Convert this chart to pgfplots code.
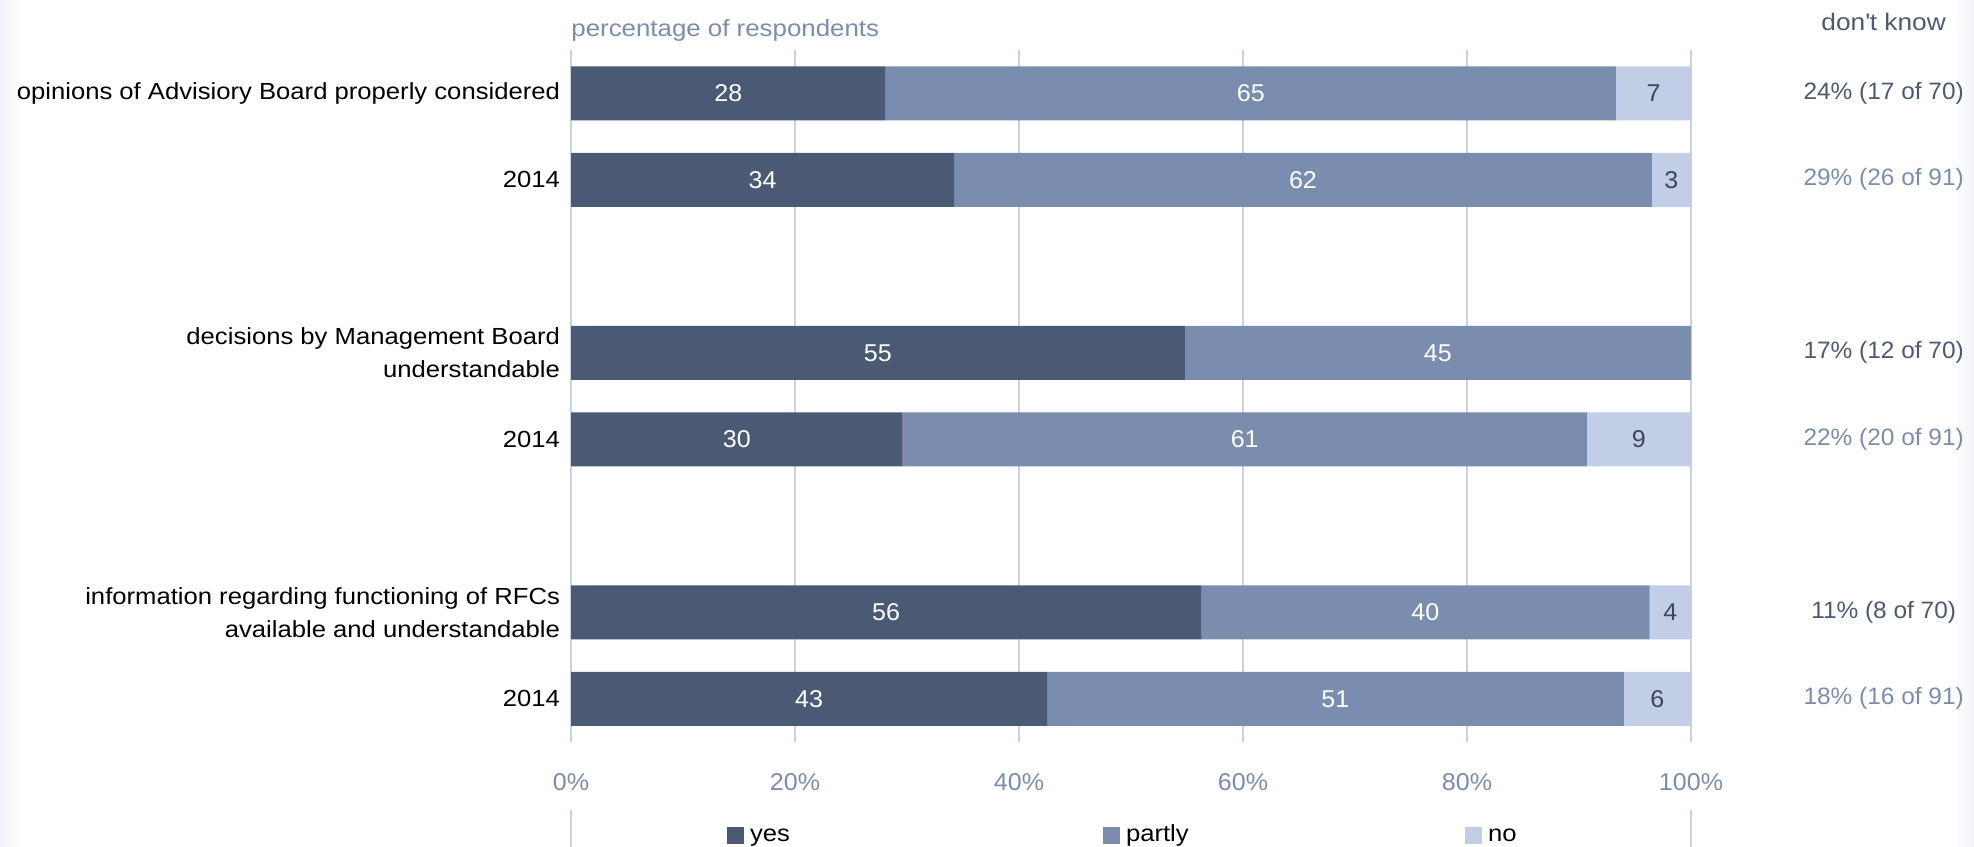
\documentclass[border=0pt]{standalone}
\usepackage{pgfplots}
\pgfplotsset{compat=1.18}
\usepackage{pgfplotstable}
\usepackage{fontspec}
\setmainfont{Liberation Sans}
\newfontfamily\wordfont[FakeStretch=1.1]{Liberation Sans}
\newfontfamily\numfont[FakeStretch=1.03]{Liberation Sans}
\definecolor{cyes}{HTML}{4A5A74}
\definecolor{cpartly}{HTML}{7A8DAE}
\definecolor{cno}{HTML}{C1CEE5}
\definecolor{cgrid}{HTML}{C5D2E8}
\definecolor{cdark}{HTML}{3E4758}
\definecolor{cedge}{HTML}{F1F3F8}

\pgfplotstableread{
row yes partly no ly lp ln
0 28.1 65.2 6.7 28 65 7
1 34.2 62.3 3.5 34 62 3
3 54.8 45.2 0 55 45 {}
4 29.6 61.1 9.3 30 61 9
6 56.25 40.05 3.7 56 40 4
7 42.5 51.5 6.0 43 51 6
}\datatable

\pgfplotsset{
  frame/.style={
    at={(285.5bp,52.5bp)}, anchor=south west,
    scale only axis, width=560bp, height=346bp,
    xmin=0, xmax=100, ymin=-0.5, ymax=7.5, y dir=reverse,
    clip=false,
  },
  mylegend/.style={legend image code/.code={\fill[##1] (0bp,-1.5bp) rectangle (8.5bp,7bp);}},
}

\begin{document}
\begin{tikzpicture}
\useasboundingbox (0,0) rectangle (987bp,423.5bp);
\shade[left color=cedge, right color=white] (0,0) rectangle (10bp,423.5bp);
\shade[left color=white, right color=cedge] (977bp,0) rectangle (987bp,423.5bp);

\begin{axis}[frame,
  xbar stacked, bar width=27bp,
  axis line style={draw=none},
  xmajorgrids, grid style={cgrid, line width=1bp},
  major tick length=0pt,
  xtick={0,20,40,60,80,100},
  xticklabels={0\%,20\%,40\%,60\%,80\%,100\%},
  xticklabel style={font=\numfont\fontsize{12.2}{14}\selectfont, text=cpartly, yshift=-12bp},
  ytick={0,1,3,4,6,7},
  yticklabels={{opinions of Advisiory Board properly considered},2014,{decisions by Management Board\\understandable},2014,{information regarding functioning of RFCs\\available and understandable},2014},
  yticklabel style={font=\wordfont\fontsize{11.7}{16.5}\selectfont, align=right, xshift=-2bp, text=black},
  legend columns=3,
  legend style={at={(0.1393,-0.1337)}, anchor=west, draw=none, fill=none,
    inner sep=0pt, outer sep=0pt,
    nodes={inner sep=0pt, align=left, font=\wordfont\fontsize{11.7}{14}\selectfont, anchor=base west},
    /tikz/every odd column/.append style={column sep=3bp}},
]
\addplot[fill=cyes, draw=none, mylegend] table[x=yes, y=row]{\datatable};
\addlegendentry[text width=176.5bp]{yes}
\addplot[fill=cpartly, draw=none, mylegend] table[x=partly, y=row]{\datatable};
\addlegendentry[text width=169.5bp]{partly}
\addplot[fill=cno, draw=none, mylegend] table[x=no, y=row]{\datatable};
\addlegendentry[text width=40bp]{no}
\draw[cgrid, line width=1bp] ([yshift=-34bp]axis cs:0,7.5) -- ([yshift=-56bp]axis cs:0,7.5);
\draw[cgrid, line width=1bp] ([yshift=-34bp]axis cs:100,7.5) -- ([yshift=-56bp]axis cs:100,7.5);
\end{axis}

\begin{axis}[frame, hide axis,
  every node near coord/.append style={anchor=center, font=\numfont\fontsize{12.2}{14}\selectfont},
]
\addplot[draw=none, mark=none, nodes near coords, point meta=explicit symbolic,
  every node near coord/.append style={text=white}]
  table[x expr=\thisrow{yes}/2, y=row, meta=ly]{\datatable};
\addplot[draw=none, mark=none, nodes near coords, point meta=explicit symbolic,
  every node near coord/.append style={text=white}]
  table[x expr=\thisrow{yes}+\thisrow{partly}/2, y=row, meta=lp]{\datatable};
\addplot[draw=none, mark=none, nodes near coords, point meta=explicit symbolic,
  every node near coord/.append style={text=cdark}]
  table[x expr=\thisrow{yes}+\thisrow{partly}+\thisrow{no}/2, y=row, meta=ln]{\datatable};
% don't know column
\addplot[draw=none, mark=none, nodes near coords, point meta=explicit symbolic,
  every node near coord/.append style={text=cyes, font=\numfont\fontsize{11.9}{14}\selectfont}]
  coordinates {(117.2,0) [24\% (17 of 70)] (117.2,3) [17\% (12 of 70)] (117.2,6) [11\% (8 of 70)]};
\addplot[draw=none, mark=none, nodes near coords, point meta=explicit symbolic,
  every node near coord/.append style={text=cpartly, font=\numfont\fontsize{11.9}{14}\selectfont}]
  coordinates {(117.2,1) [29\% (26 of 91)] (117.2,4) [22\% (20 of 91)] (117.2,7) [18\% (16 of 91)]};
\node[anchor=base west, text=cpartly, font=\wordfont\fontsize{11.8}{14}\selectfont, inner sep=0pt]
  at (axis cs:0,-0.5) [yshift=7bp] {percentage of respondents};
\node[anchor=base, text=cyes, font=\wordfont\fontsize{12}{14}\selectfont, inner sep=0pt]
  at (axis cs:117.2,-0.5) [yshift=9.8bp] {don\textquotesingle t know};
\end{axis}
\end{tikzpicture}
\end{document}
